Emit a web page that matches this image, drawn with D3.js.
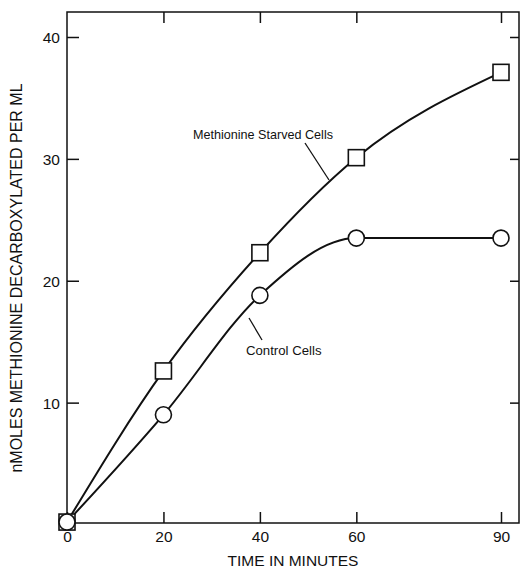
<!DOCTYPE html>
<html>
<head>
<meta charset="utf-8">
<script src="https://cdn.jsdelivr.net/npm/d3@7"></script>
<style>
  body { margin: 0; background: #fff; }
  text { font-family: "Liberation Sans", "DejaVu Sans", sans-serif; fill: #111; }
</style>
</head>
<body>
<svg id="svg"></svg>
<script>
// data
const minutes = [0, 20, 40, 60, 90];
const starved = [0.2, 12.6, 22.3, 30.1, 37.1];
const control = [0.2, 9.0, 18.8, 23.5, 23.5];
const xTicks = [0, 20, 40, 60, 90];
const yTicks = [10, 20, 30, 40];

let width = 520;
let height = 568;

let svg = d3.select("#svg")
    .attr("width", width)
    .attr("height", height);

// plot frame
let frameLeft = 67, frameRight = 519, frameTop = 12, frameBottom = 523;

var x = d3.scaleLinear().domain([0, 90]).range([67, 501]);
var y = d3.scaleLinear().domain([0, 40]).range([524.5, 37]);

// frame
svg.append("rect")
    .attr("x", frameLeft).attr("y", frameTop)
    .attr("width", frameRight - frameLeft).attr("height", frameBottom - frameTop)
    .attr("fill", "none").attr("stroke", "#111").attr("stroke-width", 1.5);

// bottom axis, ticks pointing inward
let xAxis = d3.axisBottom(x).tickValues(xTicks).tickSize(-11).tickPadding(8);
let gx = svg.append("g").attr("transform", "translate(0," + frameBottom + ")").call(xAxis);

// top ticks (no labels)
let gxt = svg.append("g").attr("transform", "translate(0," + frameTop + ")")
    .call(d3.axisTop(x).tickValues(xTicks.slice(1)).tickSize(-11).tickFormat(""));

// left axis
let yAxis = d3.axisLeft(y).tickValues(yTicks).tickSize(-12).tickPadding(7);
let gy = svg.append("g").attr("transform", "translate(" + frameLeft + ",0)").call(yAxis);

// right ticks
let gyr = svg.append("g").attr("transform", "translate(" + frameRight + ",0)")
    .call(d3.axisRight(y).tickValues(yTicks).tickSize(-9).tickFormat(""));

[gx, gxt, gy, gyr].forEach(g => {
    g.select(".domain").remove();
    g.selectAll(".tick line").attr("stroke", "#111").attr("stroke-width", 1.5);
    g.selectAll(".tick text").attr("font-size", 15.5).attr("fill", "#111")
        .style("font-family", "'Liberation Sans', sans-serif");
});
gy.selectAll(".tick text").attr("dy", "0.35em");

// axis titles
svg.append("text")
    .attr("x", 293).attr("y", 566)
    .attr("text-anchor", "middle")
    .attr("font-size", 15.5)
    .text("TIME IN MINUTES");

svg.append("text")
    .attr("transform", "translate(22,278) rotate(-90)")
    .attr("text-anchor", "middle")
    .attr("font-size", 16)
    .text("nMOLES METHIONINE DECARBOXYLATED PER ML");

// curves
let line = d3.line()
    .x((d, i) => x(minutes[i]))
    .y(d => y(d))
    .curve(d3.curveMonotoneX);

[starved, control].forEach(s => {
    svg.append("path")
        .attr("d", line(s))
        .attr("fill", "none")
        .attr("stroke", "#111")
        .attr("stroke-width", 2);
});

// markers
svg.selectAll(".sq").data(starved).enter().append("rect")
    .attr("class", "sq")
    .attr("x", (d, i) => x(minutes[i]) - 8)
    .attr("y", d => y(d) - 8)
    .attr("width", 16).attr("height", 16)
    .attr("fill", "#fff").attr("stroke", "#111").attr("stroke-width", 1.6);

svg.selectAll(".ci").data(control).enter().append("circle")
    .attr("class", "ci")
    .attr("cx", (d, i) => x(minutes[i]))
    .attr("cy", d => y(d))
    .attr("r", 8)
    .attr("fill", "#fff").attr("stroke", "#111").attr("stroke-width", 1.6);

// labels with leader lines
svg.append("text")
    .attr("x", 193).attr("y", 139)
    .attr("font-size", 12.6)
    .text("Methionine Starved Cells");
svg.append("line")
    .attr("x1", 305).attr("y1", 143).attr("x2", 329).attr("y2", 180)
    .attr("stroke", "#111").attr("stroke-width", 1.3);

svg.append("text")
    .attr("x", 246).attr("y", 355)
    .attr("font-size", 13.2)
    .text("Control Cells");
svg.append("line")
    .attr("x1", 249).attr("y1", 318).attr("x2", 262).attr("y2", 340)
    .attr("stroke", "#111").attr("stroke-width", 1.3);
</script>
</body>
</html>
